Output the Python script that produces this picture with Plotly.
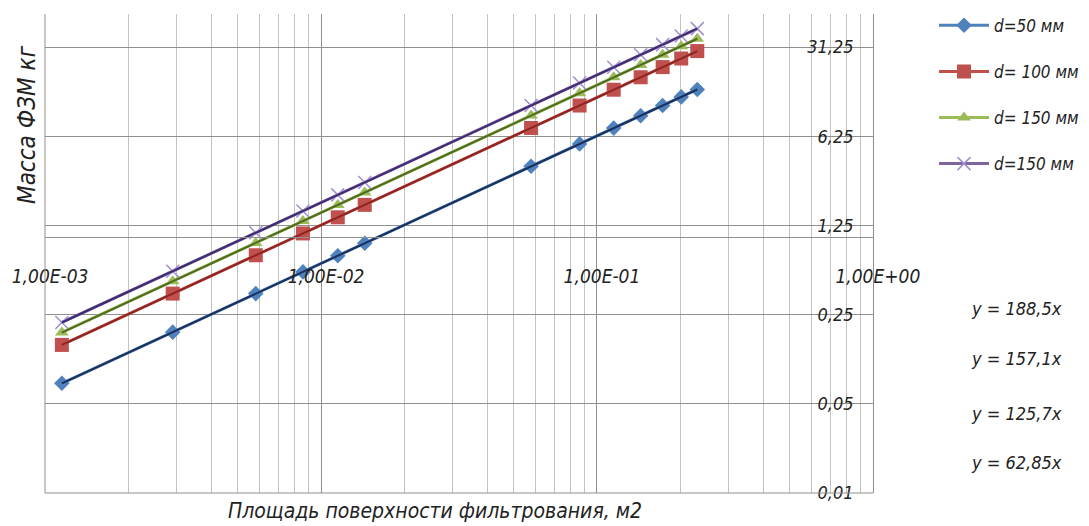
import plotly.graph_objects as go

# ---- data ----
area = [0.00115, 0.0029, 0.0058, 0.0086, 0.0115, 0.0144, 0.0577, 0.0865,
        0.115, 0.144, 0.173, 0.202, 0.231]
mass_d50 = [0.0723, 0.182, 0.365, 0.540, 0.723, 0.905, 3.63, 5.44,
            7.23, 9.05, 10.87, 12.70, 14.52]
mass_d100 = [0.1446, 0.365, 0.729, 1.081, 1.446, 1.810, 7.25, 10.87,
             14.46, 18.10, 21.75, 25.39, 29.04]
mass_d150a = [0.181, 0.456, 0.911, 1.351, 1.807, 2.262, 9.06, 13.59,
              18.07, 22.62, 27.18, 31.73, 36.29]
mass_d150b = [0.217, 0.547, 1.093, 1.621, 2.168, 2.714, 10.88, 16.31,
              21.68, 27.14, 32.61, 38.08, 43.54]
series_names = ["d=50 мм", "d= 100 мм", "d= 150 мм", "d=150 мм"]
trend_slopes = [62.85, 125.7, 157.1, 188.5]
trend_labels = ["y = 62,85x", "y = 125,7x", "y = 157,1x", "y = 188,5x"]

x_tickvals = [0.001, 0.01, 0.1, 1]
x_ticktext = ["1,00E-03", "1,00E-02", "1,00E-01", "1,00E+00"]
y_tickvals = [0.01, 0.05, 0.25, 1.25, 6.25, 31.25]
y_ticktext = ["0,01", "0,05", "0,25", "1,25", "6,25", "31,25"]

FONT = "Liberation Sans Narrow, DejaVu Sans Condensed, Roboto, sans-serif"
TXT = "#222222"

colors = ["#4F81BD", "#C0504D", "#9BBB59", "#8064A2"]
dark = ["#1B2F5A", "#8E2420", "#4F6B1E", "#3E2B72"]
symbols = ["diamond", "square", "triangle-up", "x-thin-open"]
sizes = [12, 14, 12, 12]
all_series = [mass_d50, mass_d100, mass_d150a, mass_d150b]

fig = go.Figure()
for i, ys in enumerate(all_series):
    mk = dict(symbol=symbols[i], size=sizes[i], color=colors[i])
    if symbols[i] == "x-thin-open":
        mk = dict(symbol="x-thin-open", size=13, color="#9F90D0",
                  line=dict(width=1.5, color="#9F90D0"))
    fig.add_trace(go.Scatter(
        x=area, y=ys, mode="lines+markers", name=series_names[i],
        line=dict(color=colors[i], width=3), marker=mk,
        legendgroup=str(i)))

# trendlines (y = kx) over the data range
x0, x1 = min(area), max(area)
for i, k in enumerate(trend_slopes):
    fig.add_trace(go.Scatter(
        x=[x0, x1], y=[k * x0, k * x1], mode="lines",
        line=dict(color=dark[i], width=2), showlegend=False,
        hoverinfo="skip"))

minor_vals = [m * 10 ** e for e in (-3, -2, -1) for m in range(2, 10)]

# page body has an 8px margin -> figure is offset; compensate
fig.update_layout(
    width=1081, height=518,
    margin=dict(l=37, r=216, t=6, b=33, autoexpand=False),
    paper_bgcolor="white", plot_bgcolor="white",
    font=dict(family=FONT, size=18, color=TXT, style="italic"),
    showlegend=True,
    legend=dict(x=1.0737, y=1.013, xanchor="left", yanchor="top",
                tracegroupgap=21, itemwidth=50,
                font=dict(family=FONT, size=17, color=TXT, style="italic"),
                bgcolor="rgba(0,0,0,0)"),
    xaxis=dict(type="log", range=[-3.0004, 0.0004],
               tickvals=x_tickvals, ticktext=x_ticktext,
               showgrid=True, gridcolor="#8f8f8f", gridwidth=1,
               minor=dict(tickvals=minor_vals, showgrid=True,
                          gridcolor="#c2c2c2", gridwidth=1, ticks=""),
               anchor="free", position=0.5336,
               showline=True, linecolor="#8f8f8f", linewidth=1,
               ticks="", ticklabelstandoff=22, ticklabelshift=5,
               ticklabeloverflow="allow", automargin=False,
               zeroline=False,
               tickfont=dict(family=FONT, size=19, color=TXT, style="italic")),
    yaxis=dict(type="log", range=[-2.0004, 1.7535],
               tickvals=y_tickvals, ticktext=y_ticktext,
               showgrid=True, gridcolor="#8f8f8f", gridwidth=1,
               side="right", ticklabelposition="inside",
               ticklabeloverflow="allow",
               ticks="", ticklabelstandoff=20, automargin=False,
               showline=True, linecolor="#8f8f8f", linewidth=1,
               zeroline=False,
               tickfont=dict(family=FONT, size=18, color=TXT, style="italic")),
)

# left and bottom borders
fig.add_shape(type="line", xref="paper", yref="paper", x0=0, x1=0, y0=0, y1=1,
              line=dict(color="#8f8f8f", width=1))
fig.add_shape(type="line", xref="paper", yref="paper", x0=0, x1=1, y0=0, y1=0,
              line=dict(color="#8f8f8f", width=1))

# axis titles
fig.add_annotation(text="Масса ФЗМ кг", xref="paper", yref="paper",
                   x=(27 - 45) / 828, y=(493 - 125) / 479,
                   xanchor="center", yanchor="middle",
                   textangle=-90, showarrow=False,
                   font=dict(family=FONT, size=24, color=TXT, style="italic"))
fig.add_annotation(text="Площадь поверхности фильтрования, м2", xref="paper",
                   yref="paper", x=(435 - 45) / 828, y=(493 - 511) / 479,
                   xanchor="center", yanchor="middle",
                   showarrow=False,
                   font=dict(family=FONT, size=21, color=TXT, style="italic"))

# trendline equations
eq_y = [462, 413, 358, 308]
for lbl, py in zip(trend_labels, eq_y):
    fig.add_annotation(text=lbl, xref="paper", yref="paper",
                       x=(1016 - 45) / 828, y=(493 - py) / 479,
                       xanchor="center", yanchor="middle",
                       showarrow=False,
                       font=dict(family=FONT, size=18, color=TXT, style="italic"))

fig.write_html("out.html")
